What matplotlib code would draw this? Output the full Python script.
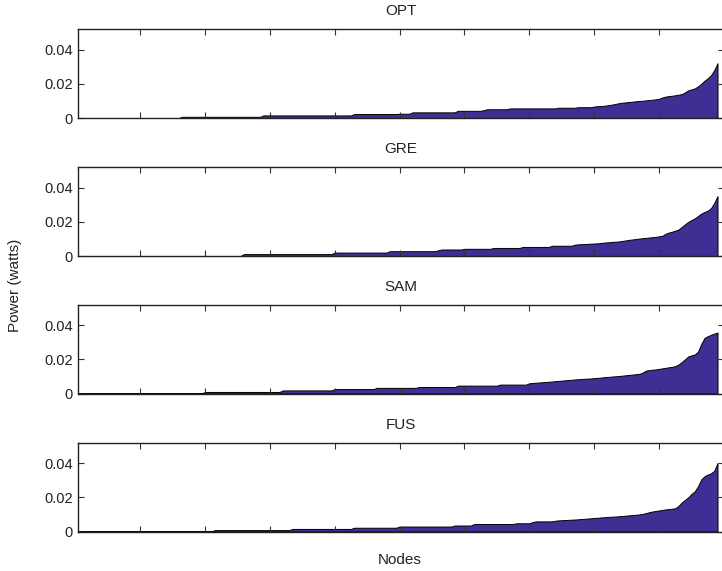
import numpy as np
import matplotlib
matplotlib.use("Agg")
import matplotlib.pyplot as plt

plt.rcParams['font.family'] = ['Liberation Sans', 'DejaVu Sans']

# Power per node (mW), nodes sorted ascending
opt_mw = ([0.0] * 32 + [0.7] * 25 + [1.5] * 28 + [2.3] * 14 + [2.5] * 4 + [3.3] * 14 +
          [4.2] * 8 + [4.6] * 1 + [5.1] * 7 + [5.6] * 15 + [6.0] * 6 + [6.3] * 5 +
          [6.7, 6.9, 7.0, 7.1, 7.4, 7.7, 8.0, 8.4, 8.8, 9.0,
           9.2, 9.4, 9.6, 9.8, 10.0, 10.1, 10.3, 10.5, 10.7, 10.9,
           11.2, 12.0, 12.5, 12.8, 13.0, 13.3, 13.6, 14.0, 15.0, 16.2,
           16.7, 17.3, 18.5, 20.0, 21.8, 23.2, 25.0, 28.0, 32.0])
gre_mw = ([0.0] * 51 + [1.1] * 28 + [2.0] * 17 + [2.8] * 15 + [3.4] * 1 + [3.8] * 7 +
          [4.2] * 9 + [4.7] * 9 + [5.3] * 9 + [6.0] * 7 +
          [6.6, 6.8, 6.9, 7.0, 7.1, 7.2, 7.3, 7.4, 7.6, 7.8,
           8.0, 8.1, 8.3, 8.4, 8.6, 8.9, 9.2, 9.5, 9.7, 10.0,
           10.2, 10.4, 10.6, 10.8, 11.0, 11.2, 11.5, 11.8, 13.0, 13.7,
           14.2, 14.8, 15.5, 17.0, 18.5, 20.0, 21.0, 22.0, 23.4, 24.8,
           25.7, 26.5, 28.0, 31.0, 35.0])
sam_mw = ([0.0] * 39 + [0.9] * 24 + [1.8] * 16 + [2.6] * 13 + [3.3] * 13 + [3.8] * 12 +
          [4.6] * 13 + [5.2] * 9 +
          [6.0, 6.1, 6.3, 6.4, 6.6, 6.7, 6.9, 7.0, 7.2, 7.4,
           7.5, 7.7, 7.9, 8.0, 8.2, 8.3, 8.5, 8.6, 8.7, 8.8,
           9.0, 9.1, 9.3, 9.5, 9.7, 9.8, 10.0, 10.1, 10.3, 10.5,
           10.7, 10.9, 11.1, 11.3, 11.5, 12.3, 13.4, 13.7, 13.9, 14.1,
           14.4, 14.7, 15.0, 15.3, 15.6, 16.0, 17.0, 18.4, 20.0, 21.7,
           22.3, 22.8, 24.5, 29.0, 32.5, 33.5, 34.3, 35.0, 35.6])
fus_mw = ([0.0] * 42 + [0.8] * 24 + [1.5] * 19 + [2.2] * 14 + [2.9] * 17 + [3.5] * 6 +
          [4.4] * 13 + [4.8] * 5 + [5.5] * 1 + [5.9] * 6 +
          [6.3, 6.5, 6.6, 6.7, 6.8, 6.9, 7.0, 7.1, 7.3, 7.4, 7.6,
           7.7, 7.9, 8.0, 8.2, 8.3, 8.5, 8.6, 8.7, 8.8, 9.0,
           9.1, 9.3, 9.5, 9.6, 9.8, 10.0, 10.3, 10.8, 11.3, 11.7,
           12.0, 12.3, 12.6, 12.9, 13.1, 13.3, 13.6, 15.0, 17.0, 18.5,
           20.0, 22.0, 23.5, 26.5, 30.5, 32.3, 33.3, 34.0, 35.5, 40.0])

titles = ["OPT", "GRE", "SAM", "FUS"]
series = [opt_mw, gre_mw, sam_mw, fus_mw]
yticks = [0, 0.02, 0.04]
ytick_labels = ["0", "0.02", "0.04"]
xticks = [20, 40, 60, 80, 100, 120, 140, 160, 180, 200]

W, H = 722, 571
fig = plt.figure(figsize=(W / 100, H / 100), dpi=100)

fill_color = "#3d2f94"
left_px, right_px = 78.3, 724.0
panels_px = [(29.0, 118.0), (167.0, 256.0), (304.5, 393.5), (442.5, 531.5)]

for (top, bot), title, vals in zip(panels_px, titles, series):
    ax = fig.add_axes([left_px / W, 1 - bot / H, (right_px - left_px) / W, (bot - top) / H])
    y = np.array(vals) * 1e-3
    x = np.arange(1, len(y) + 1)
    ax.fill_between(x, 0, y, facecolor=fill_color, edgecolor="black", linewidth=0.7)
    ax.set_xlim(1, len(y))
    ax.set_ylim(0, 0.052)
    ax.set_yticks(yticks)
    ax.set_yticklabels(ytick_labels)
    ax.set_xticks(xticks)
    ax.set_xticklabels([])
    ax.tick_params(direction="in", top=True, right=True, length=4, width=0.8,
                   color="#333333", labelsize=10.5, pad=4, labelcolor="#222222")
    for s in ax.spines.values():
        s.set_linewidth(1.0)
        s.set_color("#222222")
    ax.set_title(title, fontsize=11, pad=10, color="#222222")

fig.text(15 / W, 0.5, "Power (watts)", rotation=90, ha="center", va="center",
         fontsize=11, color="#222222")
fig.text(400 / W, 1 - 560 / H, "Nodes", ha="center", va="center", fontsize=11,
         color="#222222")

fig.savefig("out.png", dpi=100)
